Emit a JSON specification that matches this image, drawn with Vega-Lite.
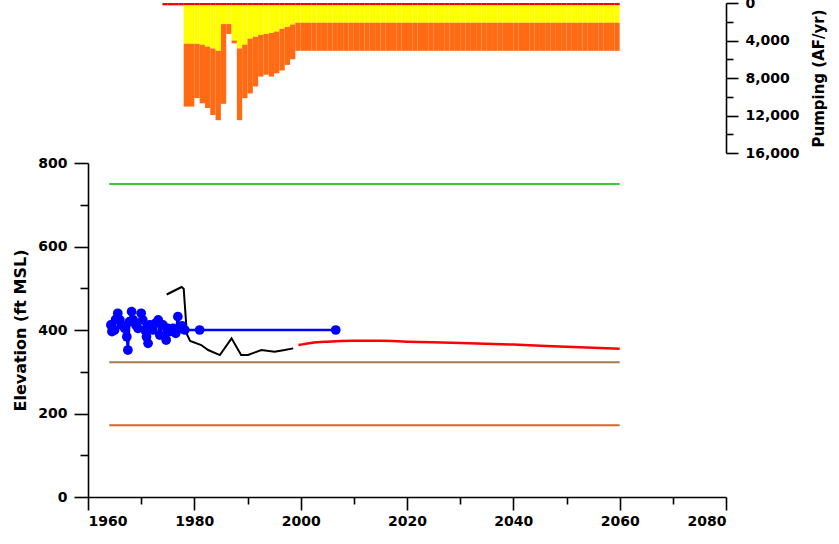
{
  "$schema": "https://vega.github.io/schema/vega-lite/v6.json",
  "background": "white",
  "padding": {"left": 12, "top": -4, "right": 5, "bottom": 5},
  "config": {
    "view": {"stroke": null},
    "font": "DejaVu Sans",
    "axis": {
      "labelFont": "DejaVu Sans", "labelFontWeight": "bold", "labelFontSize": 14, "labelColor": "#000",
      "titleFont": "DejaVu Sans", "titleFontWeight": "bold", "titleFontSize": 16, "titleColor": "#000",
      "domainColor": "#000", "tickColor": "#000", "domainWidth": 1.6, "tickWidth": 1.6, "grid": false
    }
  },
  "datasets": {
    "pumping": [
      {"start": 1974, "end": 1975, "zone1": 250, "zone2": 0, "zone3": 0},
      {"start": 1975, "end": 1976, "zone1": 250, "zone2": 0, "zone3": 0},
      {"start": 1976, "end": 1977, "zone1": 250, "zone2": 0, "zone3": 0},
      {"start": 1977, "end": 1978, "zone1": 250, "zone2": 0, "zone3": 0},
      {"start": 1978, "end": 1979, "zone1": 250, "zone2": 4100, "zone3": 6700},
      {"start": 1979, "end": 1980, "zone1": 250, "zone2": 4100, "zone3": 6700},
      {"start": 1980, "end": 1981, "zone1": 250, "zone2": 4100, "zone3": 5800},
      {"start": 1981, "end": 1982, "zone1": 250, "zone2": 4200, "zone3": 6250},
      {"start": 1982, "end": 1983, "zone1": 250, "zone2": 4400, "zone3": 6550},
      {"start": 1983, "end": 1984, "zone1": 250, "zone2": 4600, "zone3": 7100},
      {"start": 1984, "end": 1985, "zone1": 250, "zone2": 4850, "zone3": 7400},
      {"start": 1985, "end": 1986, "zone1": 250, "zone2": 2000, "zone3": 8500},
      {"start": 1986, "end": 1987, "zone1": 250, "zone2": 2000, "zone3": 1050},
      {"start": 1987, "end": 1988, "zone1": 250, "zone2": 3750, "zone3": 300},
      {"start": 1988, "end": 1989, "zone1": 250, "zone2": 4600, "zone3": 7650},
      {"start": 1989, "end": 1990, "zone1": 250, "zone2": 4200, "zone3": 5700},
      {"start": 1990, "end": 1991, "zone1": 250, "zone2": 3550, "zone3": 5850},
      {"start": 1991, "end": 1992, "zone1": 250, "zone2": 3350, "zone3": 5300},
      {"start": 1992, "end": 1993, "zone1": 250, "zone2": 3150, "zone3": 4450},
      {"start": 1993, "end": 1994, "zone1": 250, "zone2": 3050, "zone3": 4350},
      {"start": 1994, "end": 1995, "zone1": 250, "zone2": 2950, "zone3": 4650},
      {"start": 1995, "end": 1996, "zone1": 250, "zone2": 2800, "zone3": 4450},
      {"start": 1996, "end": 1997, "zone1": 250, "zone2": 2500, "zone3": 4450},
      {"start": 1997, "end": 1998, "zone1": 250, "zone2": 2300, "zone3": 4050},
      {"start": 1998, "end": 1999, "zone1": 250, "zone2": 2050, "zone3": 3700},
      {"start": 1999, "end": 2000, "zone1": 250, "zone2": 1850, "zone3": 3000},
      {"start": 2000, "end": 2001, "zone1": 250, "zone2": 1850, "zone3": 3000},
      {"start": 2001, "end": 2002, "zone1": 250, "zone2": 1850, "zone3": 3000},
      {"start": 2002, "end": 2003, "zone1": 250, "zone2": 1850, "zone3": 3000},
      {"start": 2003, "end": 2004, "zone1": 250, "zone2": 1850, "zone3": 3000},
      {"start": 2004, "end": 2005, "zone1": 250, "zone2": 1850, "zone3": 3000},
      {"start": 2005, "end": 2006, "zone1": 250, "zone2": 1850, "zone3": 3000},
      {"start": 2006, "end": 2007, "zone1": 250, "zone2": 1850, "zone3": 3000},
      {"start": 2007, "end": 2008, "zone1": 250, "zone2": 1850, "zone3": 3000},
      {"start": 2008, "end": 2009, "zone1": 250, "zone2": 1850, "zone3": 3000},
      {"start": 2009, "end": 2010, "zone1": 250, "zone2": 1850, "zone3": 3000},
      {"start": 2010, "end": 2011, "zone1": 250, "zone2": 1850, "zone3": 3000},
      {"start": 2011, "end": 2012, "zone1": 250, "zone2": 1850, "zone3": 3000},
      {"start": 2012, "end": 2013, "zone1": 250, "zone2": 1850, "zone3": 3000},
      {"start": 2013, "end": 2014, "zone1": 250, "zone2": 1850, "zone3": 3000},
      {"start": 2014, "end": 2015, "zone1": 250, "zone2": 1850, "zone3": 3000},
      {"start": 2015, "end": 2016, "zone1": 250, "zone2": 1850, "zone3": 3000},
      {"start": 2016, "end": 2017, "zone1": 250, "zone2": 1850, "zone3": 3000},
      {"start": 2017, "end": 2018, "zone1": 250, "zone2": 1850, "zone3": 3000},
      {"start": 2018, "end": 2019, "zone1": 250, "zone2": 1850, "zone3": 3000},
      {"start": 2019, "end": 2020, "zone1": 250, "zone2": 1850, "zone3": 3000},
      {"start": 2020, "end": 2021, "zone1": 250, "zone2": 1850, "zone3": 3000},
      {"start": 2021, "end": 2022, "zone1": 250, "zone2": 1850, "zone3": 3000},
      {"start": 2022, "end": 2023, "zone1": 250, "zone2": 1850, "zone3": 3000},
      {"start": 2023, "end": 2024, "zone1": 250, "zone2": 1850, "zone3": 3000},
      {"start": 2024, "end": 2025, "zone1": 250, "zone2": 1850, "zone3": 3000},
      {"start": 2025, "end": 2026, "zone1": 250, "zone2": 1850, "zone3": 3000},
      {"start": 2026, "end": 2027, "zone1": 250, "zone2": 1850, "zone3": 3000},
      {"start": 2027, "end": 2028, "zone1": 250, "zone2": 1850, "zone3": 3000},
      {"start": 2028, "end": 2029, "zone1": 250, "zone2": 1850, "zone3": 3000},
      {"start": 2029, "end": 2030, "zone1": 250, "zone2": 1850, "zone3": 3000},
      {"start": 2030, "end": 2031, "zone1": 250, "zone2": 1850, "zone3": 3000},
      {"start": 2031, "end": 2032, "zone1": 250, "zone2": 1850, "zone3": 3000},
      {"start": 2032, "end": 2033, "zone1": 250, "zone2": 1850, "zone3": 3000},
      {"start": 2033, "end": 2034, "zone1": 250, "zone2": 1850, "zone3": 3000},
      {"start": 2034, "end": 2035, "zone1": 250, "zone2": 1850, "zone3": 3000},
      {"start": 2035, "end": 2036, "zone1": 250, "zone2": 1850, "zone3": 3000},
      {"start": 2036, "end": 2037, "zone1": 250, "zone2": 1850, "zone3": 3000},
      {"start": 2037, "end": 2038, "zone1": 250, "zone2": 1850, "zone3": 3000},
      {"start": 2038, "end": 2039, "zone1": 250, "zone2": 1850, "zone3": 3000},
      {"start": 2039, "end": 2040, "zone1": 250, "zone2": 1850, "zone3": 3000},
      {"start": 2040, "end": 2041, "zone1": 250, "zone2": 1850, "zone3": 3000},
      {"start": 2041, "end": 2042, "zone1": 250, "zone2": 1850, "zone3": 3000},
      {"start": 2042, "end": 2043, "zone1": 250, "zone2": 1850, "zone3": 3000},
      {"start": 2043, "end": 2044, "zone1": 250, "zone2": 1850, "zone3": 3000},
      {"start": 2044, "end": 2045, "zone1": 250, "zone2": 1850, "zone3": 3000},
      {"start": 2045, "end": 2046, "zone1": 250, "zone2": 1850, "zone3": 3000},
      {"start": 2046, "end": 2047, "zone1": 250, "zone2": 1850, "zone3": 3000},
      {"start": 2047, "end": 2048, "zone1": 250, "zone2": 1850, "zone3": 3000},
      {"start": 2048, "end": 2049, "zone1": 250, "zone2": 1850, "zone3": 3000},
      {"start": 2049, "end": 2050, "zone1": 250, "zone2": 1850, "zone3": 3000},
      {"start": 2050, "end": 2051, "zone1": 250, "zone2": 1850, "zone3": 3000},
      {"start": 2051, "end": 2052, "zone1": 250, "zone2": 1850, "zone3": 3000},
      {"start": 2052, "end": 2053, "zone1": 250, "zone2": 1850, "zone3": 3000},
      {"start": 2053, "end": 2054, "zone1": 250, "zone2": 1850, "zone3": 3000},
      {"start": 2054, "end": 2055, "zone1": 250, "zone2": 1850, "zone3": 3000},
      {"start": 2055, "end": 2056, "zone1": 250, "zone2": 1850, "zone3": 3000},
      {"start": 2056, "end": 2057, "zone1": 250, "zone2": 1850, "zone3": 3000},
      {"start": 2057, "end": 2058, "zone1": 250, "zone2": 1850, "zone3": 3000},
      {"start": 2058, "end": 2059, "zone1": 250, "zone2": 1850, "zone3": 3000},
      {"start": 2059, "end": 2060, "zone1": 250, "zone2": 1850, "zone3": 3000}
    ],
    "hlines": [
      {"series": "Ground surface", "start": 1964, "end": 2060, "elev": 750},
      {"series": "Top of screen", "start": 1964, "end": 2060, "elev": 323},
      {"series": "Bottom of screen", "start": 1964, "end": 2060, "elev": 172}
    ],
    "historical": [
      {"series": "Simulated historical", "year": 1974.8, "elev": 485},
      {"series": "Simulated historical", "year": 1977.6, "elev": 503},
      {"series": "Simulated historical", "year": 1978.0, "elev": 499},
      {"series": "Simulated historical", "year": 1978.6, "elev": 390},
      {"series": "Simulated historical", "year": 1979.2, "elev": 374},
      {"series": "Simulated historical", "year": 1981.3, "elev": 364},
      {"series": "Simulated historical", "year": 1982.6, "elev": 352},
      {"series": "Simulated historical", "year": 1984.8, "elev": 340},
      {"series": "Simulated historical", "year": 1987.0, "elev": 380},
      {"series": "Simulated historical", "year": 1988.8, "elev": 340},
      {"series": "Simulated historical", "year": 1990.1, "elev": 340},
      {"series": "Simulated historical", "year": 1992.6, "elev": 352},
      {"series": "Simulated historical", "year": 1995.1, "elev": 348},
      {"series": "Simulated historical", "year": 1997.0, "elev": 352},
      {"series": "Simulated historical", "year": 1998.6, "elev": 356}
    ],
    "projected": [
      {"series": "Simulated projected", "year": 1999.6, "elev": 364},
      {"series": "Simulated projected", "year": 2002, "elev": 369},
      {"series": "Simulated projected", "year": 2005, "elev": 372},
      {"series": "Simulated projected", "year": 2010, "elev": 374},
      {"series": "Simulated projected", "year": 2015, "elev": 374},
      {"series": "Simulated projected", "year": 2020, "elev": 372},
      {"series": "Simulated projected", "year": 2030, "elev": 369},
      {"series": "Simulated projected", "year": 2040, "elev": 365},
      {"series": "Simulated projected", "year": 2050, "elev": 360},
      {"series": "Simulated projected", "year": 2060, "elev": 355}
    ],
    "observed": [
      {"series": "Observed", "year": 1964.3, "elev": 412},
      {"series": "Observed", "year": 1964.5, "elev": 396},
      {"series": "Observed", "year": 1965.0, "elev": 400},
      {"series": "Observed", "year": 1965.2, "elev": 425},
      {"series": "Observed", "year": 1965.6, "elev": 440},
      {"series": "Observed", "year": 1966.0, "elev": 424},
      {"series": "Observed", "year": 1966.3, "elev": 412},
      {"series": "Observed", "year": 1966.9, "elev": 404},
      {"series": "Observed", "year": 1967.3, "elev": 384},
      {"series": "Observed", "year": 1967.5, "elev": 352},
      {"series": "Observed", "year": 1967.8, "elev": 420},
      {"series": "Observed", "year": 1968.2, "elev": 444},
      {"series": "Observed", "year": 1968.5, "elev": 424},
      {"series": "Observed", "year": 1969.0, "elev": 412},
      {"series": "Observed", "year": 1969.4, "elev": 404},
      {"series": "Observed", "year": 1970.0, "elev": 440},
      {"series": "Observed", "year": 1970.3, "elev": 424},
      {"series": "Observed", "year": 1970.7, "elev": 400},
      {"series": "Observed", "year": 1971.0, "elev": 384},
      {"series": "Observed", "year": 1971.3, "elev": 368},
      {"series": "Observed", "year": 1971.6, "elev": 412},
      {"series": "Observed", "year": 1972.2, "elev": 400},
      {"series": "Observed", "year": 1972.7, "elev": 416},
      {"series": "Observed", "year": 1973.2, "elev": 424},
      {"series": "Observed", "year": 1973.5, "elev": 388},
      {"series": "Observed", "year": 1974.1, "elev": 412},
      {"series": "Observed", "year": 1974.7, "elev": 376},
      {"series": "Observed", "year": 1975.0, "elev": 404},
      {"series": "Observed", "year": 1975.4, "elev": 396},
      {"series": "Observed", "year": 1976.0, "elev": 404},
      {"series": "Observed", "year": 1976.5, "elev": 392},
      {"series": "Observed", "year": 1976.9, "elev": 432},
      {"series": "Observed", "year": 1977.2, "elev": 404},
      {"series": "Observed", "year": 1977.7, "elev": 410},
      {"series": "Observed", "year": 1978.2, "elev": 400},
      {"series": "Observed", "year": 1981.0, "elev": 400},
      {"series": "Observed", "year": 2006.6, "elev": 400}
    ]
  },
  "spacing": 10,
  "bounds": "flush",
  "resolve": {"scale": {"color": "independent", "x": "independent"}},
  "vconcat": [
    {
      "width": 638,
      "height": 150,
      "layer": [
        {
          "data": {"name": "pumping"},
          "transform": [
            {"fold": ["zone1", "zone2", "zone3"], "as": ["zone", "af"]},
            {"stack": "af", "groupby": ["start"], "sort": [{"field": "zone", "order": "ascending"}], "as": ["af0", "af1"]}
          ],
          "mark": {"type": "bar"},
          "encoding": {
            "x": {"field": "start", "type": "quantitative", "scale": {"domain": [1960, 2080], "nice": false, "zero": false}, "axis": null},
            "x2": {"field": "end"},
            "y": {"field": "af0", "type": "quantitative",
                  "scale": {"domain": [0, 16000], "reverse": true, "nice": false},
                  "axis": {"orient": "right", "values": [0, 4000, 8000, 12000, 16000], "format": ",.0f", "tickSize": 12, "labelPadding": 7, "title": "Pumping (AF/yr)", "titleAngle": 270, "titlePadding": 27, "titleFontSize": 15}},
            "y2": {"field": "af1"},
            "color": {"field": "zone", "type": "nominal", "scale": {"domain": ["zone1", "zone2", "zone3"], "range": ["#ff0000", "#ffff00", "#ff6a13"]}, "legend": null}
          }
        },
        {
          "data": {"name": "pumping"},
          "mark": {"type": "rule", "opacity": 0},
          "encoding": {
            "y": {"field": "zone1", "type": "quantitative",
                  "axis": {"orient": "right", "values": [2000, 6000, 10000, 14000], "labels": false, "domain": false, "tickSize": 7, "title": null}}
          }
        }
      ],
      "resolve": {"axis": {"y": "independent"}}
    },
    {
      "width": 638,
      "height": 334,
      "layer": [
        {
          "data": {"name": "hlines"},
          "mark": {"type": "rule", "strokeWidth": 2},
          "encoding": {
            "x": {"field": "start", "type": "quantitative", "scale": {"domain": [1960, 2080], "nice": false, "zero": false},
                  "axis": {"orient": "bottom", "values": [1960, 1980, 2000, 2020, 2040, 2060, 2080], "format": "d", "tickSize": 13, "labelPadding": 4, "title": null}},
            "x2": {"field": "end"},
            "y": {"field": "elev", "type": "quantitative", "scale": {"domain": [0, 800], "nice": false},
                  "axis": {"orient": "left", "values": [0, 200, 400, 600, 800], "tickSize": 14, "labelPadding": 7, "title": "Elevation (ft MSL)", "titlePadding": 9}},
            "color": {"field": "series", "type": "nominal",
                      "scale": {"domain": ["Ground surface", "Top of screen", "Bottom of screen", "Simulated historical", "Simulated projected", "Observed"],
                                "range": ["#33cc33", "#a57a4c", "#d4662a", "#000000", "#ff0000", "#0000ff"]}, "legend": null}
          }
        },
        {
          "data": {"name": "historical"},
          "mark": {"type": "line", "strokeWidth": 2},
          "encoding": {
            "x": {"field": "year", "type": "quantitative", "axis": null},
            "y": {"field": "elev", "type": "quantitative", "axis": null},
            "color": {"field": "series", "type": "nominal", "legend": null}
          }
        },
        {
          "data": {"name": "projected"},
          "mark": {"type": "line", "strokeWidth": 2.5, "interpolate": "monotone"},
          "encoding": {
            "x": {"field": "year", "type": "quantitative", "axis": null},
            "y": {"field": "elev", "type": "quantitative", "axis": null},
            "color": {"field": "series", "type": "nominal", "legend": null}
          }
        },
        {
          "data": {"name": "observed"},
          "mark": {"type": "line", "strokeWidth": 2.5},
          "encoding": {
            "x": {"field": "year", "type": "quantitative", "axis": null},
            "y": {"field": "elev", "type": "quantitative", "axis": null},
            "color": {"field": "series", "type": "nominal", "legend": null}
          }
        },
        {
          "data": {"name": "observed"},
          "mark": {"type": "point", "filled": true, "opacity": 1, "size": 95},
          "encoding": {
            "x": {"field": "year", "type": "quantitative", "axis": null},
            "y": {"field": "elev", "type": "quantitative", "axis": null},
            "color": {"field": "series", "type": "nominal", "legend": null}
          }
        },
        {
          "data": {"name": "hlines"},
          "mark": {"type": "rule", "opacity": 0},
          "encoding": {
            "x": {"field": "start", "type": "quantitative",
                  "axis": {"orient": "bottom", "values": [1970, 1990, 2010, 2030, 2050, 2070], "labels": false, "domain": false, "tickSize": 7, "title": null}},
            "x2": {"field": "end"},
            "y": {"field": "elev", "type": "quantitative",
                  "axis": {"orient": "left", "values": [100, 300, 500, 700], "labels": false, "domain": false, "tickSize": 8, "title": null}}
          }
        }
      ],
      "resolve": {"axis": {"x": "independent", "y": "independent"}}
    }
  ]
}
